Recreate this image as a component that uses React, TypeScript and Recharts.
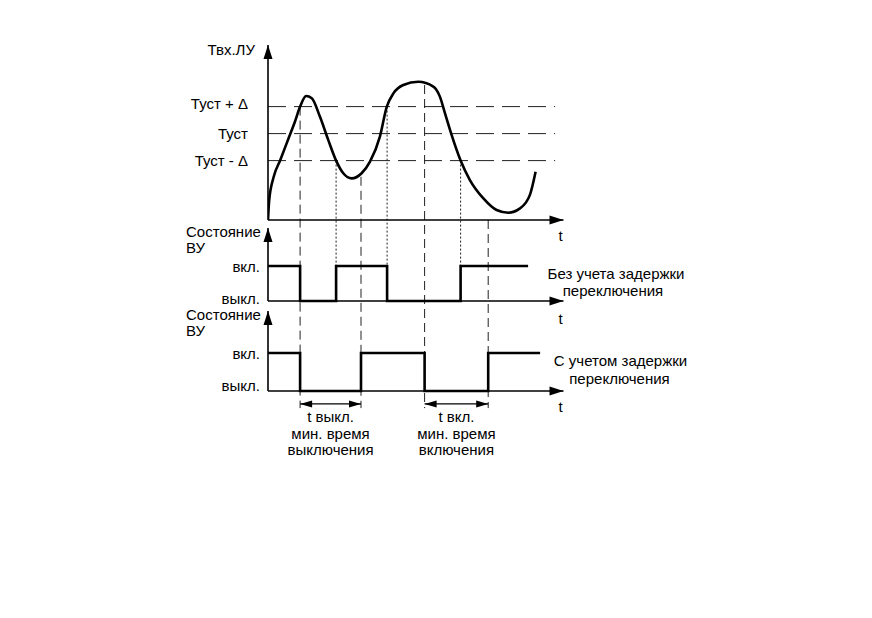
import { ComposedChart, Line, XAxis, YAxis, ReferenceLine, ReferenceDot } from "recharts";

// входной сигнал ЛУ: время и значение
const inputTime = [
  0, 0.4, 1.9, 4.1, 6.9, 9.0, 10.7, 12.7, 14.6, 17.3, 20.1, 22.7, 25.1, 27.9, 31.2, 34.0, 37.3,
  39.6, 41.8, 45.1, 50.1, 55.1, 57.3, 59.0, 61.2, 64.2, 67.3, 71.8, 76.2, 80.1, 84.0, 87.3, 89.2,
];
const inputValue = [
  0, 7.4, 16.0, 22.2, 30.4, 36.5, 42.0, 45.9, 45.1, 38.3, 29.6, 22.0, 17.3, 15.4, 17.3, 21.6, 30.9,
  42.0, 46.9, 50.0, 51.2, 49.4, 45.7, 39.5, 31.5, 22.0, 14.8, 8.0, 3.7, 2.7, 4.3, 9.3, 17.9,
];

const levelValues = [42, 32, 22];
const levelNames = ["Туст + Δ", "Туст", "Туст - Δ"];

// состояние ВУ без задержки и с задержкой
const relayTime = [0, 10.7, 22.7, 39.7, 64.2, 86.7];
const relayState = [1, 0, 1, 0, 1, 1];
const delayedTime = [0, 10.7, 31.0, 52.2, 73.4, 90.7];
const delayedState = [1, 0, 1, 0, 1, 1];

// вертикальные отметки моментов переключения
const markTime = [10.7, 22.7, 31.0, 39.7, 52.2, 64.2, 73.4];
const markFrom = [42, 22, 16, 42, 50, 22, 0];
const markDotted = [false, true, false, true, false, true, false];

const intervalStart = [10.7, 52.2];
const intervalEnd = [31.0, 73.4];
const intervalNames = [
  ["t выкл.", "мин. время", "выключения"],
  ["t вкл.", "мин. время", "включения"],
];

const stateNames = ["вкл.", "выкл."];
const panelNames = ["Состояние", "ВУ"];
const noteRelay = ["Без учета задержки", "переключения"];
const noteDelayed = ["С учетом задержки", "переключения"];

const W = 872;
const H = 618;
const LEFT = 268;
const RIGHT = 712;
const TOP = 30;
const BOTTOM = 470;
const PX_PER_T = 3;
const T_MAX = (RIGHT - LEFT) / PX_PER_T;
const T_END = 98.5;
const LEVEL_END = 95.7;
const FONT = "'Liberation Sans', Arial, sans-serif";

type Panel = { base: number; unit: number; top: number };
const inPanel: Panel = { base: 220, unit: 2.7, top: 45 };
const relayPanel: Panel = { base: 301, unit: 35, top: 228 };
const delayPanel: Panel = { base: 391, unit: 38, top: 311 };

const domainOf = (p: Panel) => [(p.base - BOTTOM) / p.unit, (p.base - TOP) / p.unit];
const tipOf = (p: Panel) => (p.base - p.top) / p.unit;
const onInput = (p: Panel, v: number) => (inPanel.base - (p.base - v * p.unit)) / inPanel.unit;

const guideEnd = onInput(delayPanel, -0.45);
const dottedEnd = onInput(relayPanel, 0);
const intervalLevel = -0.34;

const inputData = inputTime.map((t, i) => ({ t, v: inputValue[i] }));
const relayData = relayTime.map((t, i) => ({ t, s: relayState[i] }));
const delayedData = delayedTime.map((t, i) => ({ t, s: delayedState[i] }));

const arrow = (dir: "up" | "right" | "left", len = 14, half = 4.5) => (p: any) => {
  const { cx, cy } = p;
  let pts = "";
  if (dir === "up") pts = `${cx},${cy} ${cx - half},${cy + len} ${cx + half},${cy + len}`;
  if (dir === "right") pts = `${cx},${cy} ${cx - len},${cy - half} ${cx - len},${cy + half}`;
  if (dir === "left") pts = `${cx},${cy} ${cx + len},${cy - half} ${cx + len},${cy + half}`;
  return <polygon points={pts} fill="#000" />;
};

const note = (text: string, dx: number, dy: number, anchor = "middle") => (p: any) => (
  <text
    x={p.cx + dx}
    y={p.cy + dy}
    textAnchor={anchor}
    dominantBaseline="central"
    fontSize={15}
    fontFamily={FONT}
    fill="#000"
  >
    {text}
  </text>
);

export default function App() {
  const axisStroke = { stroke: "#000", strokeWidth: 1.6 };
  return (
    <div style={{ position: "absolute", left: 0, top: 0, width: W, height: H, background: "#fff" }}>
      <ComposedChart
        width={W}
        height={H}
        margin={{ top: TOP, bottom: H - BOTTOM, left: LEFT, right: W - RIGHT }}
      >
        <XAxis type="number" dataKey="t" domain={[0, T_MAX]} hide allowDataOverflow />
        <YAxis yAxisId="in" type="number" domain={domainOf(inPanel)} hide allowDataOverflow />
        <YAxis yAxisId="re" type="number" domain={domainOf(relayPanel)} hide allowDataOverflow />
        <YAxis yAxisId="dl" type="number" domain={domainOf(delayPanel)} hide allowDataOverflow />

        {levelValues.map((v, i) => (
          <ReferenceLine
            key={`lvl-${i}`}
            yAxisId="in"
            segment={[{ x: 0, y: v }, { x: LEVEL_END, y: v }]}
            stroke="#222"
            strokeWidth={1}
            strokeDasharray="18 8"
            ifOverflow="visible"
          />
        ))}

        {markTime.map((t, i) => (
          <ReferenceLine
            key={`mark-${i}`}
            yAxisId="in"
            segment={[{ x: t, y: markFrom[i] }, { x: t, y: markDotted[i] ? dottedEnd : guideEnd }]}
            stroke="#222"
            strokeWidth={1}
            strokeDasharray={markDotted[i] ? "2 2" : "9 5"}
            ifOverflow="visible"
          />
        ))}

        {/* оси трёх графиков */}
        <ReferenceLine yAxisId="in" segment={[{ x: 0, y: 0 }, { x: 0, y: tipOf(inPanel) }]} {...axisStroke} ifOverflow="visible" />
        <ReferenceLine yAxisId="in" segment={[{ x: 0, y: 0 }, { x: T_END, y: 0 }]} {...axisStroke} ifOverflow="visible" />
        <ReferenceLine yAxisId="re" segment={[{ x: 0, y: 0 }, { x: 0, y: tipOf(relayPanel) }]} {...axisStroke} ifOverflow="visible" />
        <ReferenceLine yAxisId="re" segment={[{ x: 0, y: 0 }, { x: T_END, y: 0 }]} {...axisStroke} ifOverflow="visible" />
        <ReferenceLine yAxisId="dl" segment={[{ x: 0, y: 0 }, { x: 0, y: tipOf(delayPanel) }]} {...axisStroke} ifOverflow="visible" />
        <ReferenceLine yAxisId="dl" segment={[{ x: 0, y: 0 }, { x: T_END, y: 0 }]} {...axisStroke} ifOverflow="visible" />

        <ReferenceDot yAxisId="in" x={0} y={tipOf(inPanel)} shape={arrow("up")} ifOverflow="visible" />
        <ReferenceDot yAxisId="re" x={0} y={tipOf(relayPanel)} shape={arrow("up")} ifOverflow="visible" />
        <ReferenceDot yAxisId="dl" x={0} y={tipOf(delayPanel)} shape={arrow("up")} ifOverflow="visible" />
        <ReferenceDot yAxisId="in" x={T_END} y={0} shape={arrow("right")} ifOverflow="visible" />
        <ReferenceDot yAxisId="re" x={T_END} y={0} shape={arrow("right")} ifOverflow="visible" />
        <ReferenceDot yAxisId="dl" x={T_END} y={0} shape={arrow("right")} ifOverflow="visible" />

        {/* интервалы минимального времени */}
        {intervalStart.map((t0, i) => (
          <ReferenceLine
            key={`int-${i}`}
            yAxisId="dl"
            segment={[{ x: t0, y: intervalLevel }, { x: intervalEnd[i], y: intervalLevel }]}
            stroke="#000"
            strokeWidth={1.2}
            ifOverflow="visible"
          />
        ))}
        {intervalStart.map((t0, i) => (
          <ReferenceDot key={`ial-${i}`} yAxisId="dl" x={t0} y={intervalLevel} shape={arrow("left", 12, 3.5)} ifOverflow="visible" />
        ))}
        {intervalEnd.map((t1, i) => (
          <ReferenceDot key={`iar-${i}`} yAxisId="dl" x={t1} y={intervalLevel} shape={arrow("right", 12, 3.5)} ifOverflow="visible" />
        ))}
        {intervalStart.map((t0, i) =>
          intervalNames[i].map((txt, j) => (
            <ReferenceDot
              key={`itx-${i}-${j}`}
              yAxisId="dl"
              x={(t0 + intervalEnd[i]) / 2}
              y={intervalLevel}
              shape={note(txt, 0, 13 + j * 16.5)}
              ifOverflow="visible"
            />
          ))
        )}

        <Line
          yAxisId="in"
          data={inputData}
          dataKey="v"
          type="monotone"
          stroke="#000"
          strokeWidth={2.6}
          dot={false}
          activeDot={false}
          isAnimationActive={false}
        />
        <Line
          yAxisId="re"
          data={relayData}
          dataKey="s"
          type="stepAfter"
          stroke="#000"
          strokeWidth={2.6}
          dot={false}
          activeDot={false}
          isAnimationActive={false}
        />
        <Line
          yAxisId="dl"
          data={delayedData}
          dataKey="s"
          type="stepAfter"
          stroke="#000"
          strokeWidth={2.6}
          dot={false}
          activeDot={false}
          isAnimationActive={false}
        />

        {/* подписи */}
        <ReferenceDot yAxisId="in" x={0} y={tipOf(inPanel)} shape={note("Твх.ЛУ", -13, 4, "end")} ifOverflow="visible" />
        {levelValues.map((v, i) => (
          <ReferenceDot key={`ln-${i}`} yAxisId="in" x={0} y={v} shape={note(levelNames[i], -20, i === 0 ? -3 : 0, "end")} ifOverflow="visible" />
        ))}
        {[relayPanel, delayPanel].map((p, k) => {
          const id = k === 0 ? "re" : "dl";
          return [
            ...panelNames.map((txt, j) => (
              <ReferenceDot key={`pn-${k}-${j}`} yAxisId={id} x={0} y={tipOf(p)} shape={note(txt, -82, 3 + j * 16.5, "start")} ifOverflow="visible" />
            )),
            <ReferenceDot key={`on-${k}`} yAxisId={id} x={0} y={1} shape={note(stateNames[0], -8, 0, "end")} ifOverflow="visible" />,
            <ReferenceDot key={`off-${k}`} yAxisId={id} x={0} y={0} shape={note(stateNames[1], -8, k === 0 ? -3 : -6, "end")} ifOverflow="visible" />,
          ];
        })}
        <ReferenceDot yAxisId="in" x={T_END} y={0} shape={note("t", -3, 15)} ifOverflow="visible" />
        <ReferenceDot yAxisId="re" x={T_END} y={0} shape={note("t", -3, 17)} ifOverflow="visible" />
        <ReferenceDot yAxisId="dl" x={T_END} y={0} shape={note("t", -3, 15)} ifOverflow="visible" />
        {noteRelay.map((txt, j) => (
          <ReferenceDot key={`nr-${j}`} yAxisId="re" x={116} y={1} shape={note(txt, j === 0 ? 0 : -3, 7 + j * 17)} ifOverflow="visible" />
        ))}
        {noteDelayed.map((txt, j) => (
          <ReferenceDot key={`nd-${j}`} yAxisId="dl" x={117.5} y={1} shape={note(txt, j === 0 ? 0 : -1, 7 + j * 18)} ifOverflow="visible" />
        ))}
      </ComposedChart>
    </div>
  );
}
